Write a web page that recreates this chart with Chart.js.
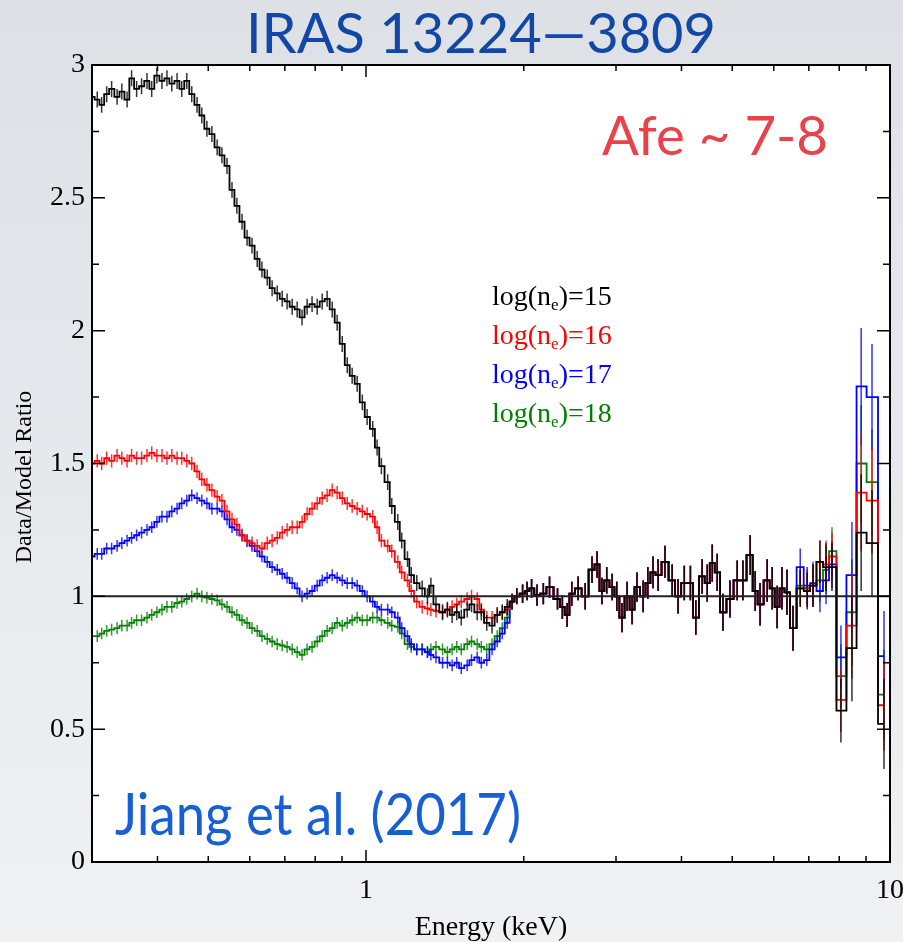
<!DOCTYPE html>
<html>
<head>
<meta charset="utf-8">
<title>IRAS 13224-3809 ratio</title>
<script src="https://cdn.jsdelivr.net/npm/chart.js@4.4.0/dist/chart.umd.min.js"></script>
<style>
  html, body { margin: 0; padding: 0; }
  body {
    width: 903px; height: 942px; overflow: hidden;
    background: linear-gradient(to bottom, #dde1e6 0%, #e7eaed 55%, #eff1f3 100%);
  }
  canvas { display: block; }
</style>
</head>
<body>
<canvas id="ratio-chart" width="903" height="942"></canvas>
<script>
// energy grid of the finely binned soft band (keV)
const energyDense = [
  0.300, 0.307, 0.313, 0.320, 0.327, 0.335, 0.342, 0.350, 0.357, 0.365, 0.373, 0.382,
  0.390, 0.399, 0.408, 0.417, 0.426, 0.436, 0.445, 0.455, 0.465, 0.476, 0.486, 0.497,
  0.508, 0.520, 0.531, 0.543, 0.555, 0.567, 0.580, 0.593, 0.606, 0.620, 0.633, 0.648,
  0.662, 0.677, 0.692, 0.707, 0.723, 0.739, 0.755, 0.772, 0.789, 0.807, 0.825, 0.843,
  0.862, 0.881, 0.901, 0.921, 0.941, 0.962, 0.984, 1.005, 1.03, 1.05, 1.07, 1.10,
  1.12, 1.15, 1.17, 1.20, 1.22, 1.25, 1.28, 1.31, 1.33, 1.36, 1.40, 1.43,
  1.46, 1.49, 1.52, 1.56, 1.59, 1.63, 1.66, 1.70, 1.74, 1.78, 1.82, 1.86
];

// data/model ratio in the soft band, one array per density
const ne15Dense = [
  2.88, 2.87, 2.85, 2.89, 2.91, 2.88, 2.90, 2.87, 2.95, 2.91, 2.92, 2.94,
  2.91, 2.96, 2.94, 2.95, 2.93, 2.94, 2.91, 2.94, 2.89, 2.85, 2.81, 2.76,
  2.74, 2.69, 2.66, 2.62, 2.53, 2.47, 2.41, 2.35, 2.32, 2.27, 2.23, 2.20,
  2.16, 2.14, 2.12, 2.11, 2.09, 2.08, 2.05, 2.09, 2.10, 2.09, 2.11, 2.12,
  2.08, 2.03, 1.95, 1.87, 1.83, 1.80, 1.73, 1.675, 1.63, 1.56, 1.49, 1.43,
  1.34, 1.28, 1.21, 1.14, 1.08, 1.05, 1.03, 1.00, 1.04, 0.97, 0.94, 0.95,
  0.93, 0.94, 0.92, 0.95, 0.97, 0.94, 0.94, 0.90, 0.89, 0.93, 0.94, 0.96
];
const ne16Dense = [
  1.50, 1.51, 1.50, 1.52, 1.51, 1.53, 1.52, 1.51, 1.53, 1.52, 1.52, 1.53,
  1.54, 1.53, 1.53, 1.52, 1.53, 1.52, 1.52, 1.51, 1.50, 1.47, 1.44, 1.42,
  1.40, 1.375, 1.36, 1.32, 1.29, 1.27, 1.23, 1.21, 1.20, 1.19, 1.18, 1.20,
  1.21, 1.22, 1.24, 1.25, 1.26, 1.26, 1.28, 1.31, 1.33, 1.35, 1.37, 1.38,
  1.40, 1.39, 1.37, 1.35, 1.34, 1.33, 1.32, 1.31, 1.30, 1.26, 1.21, 1.19,
  1.17, 1.13, 1.09, 1.06, 1.02, 0.98, 0.96, 0.955, 0.95, 0.945, 0.94, 0.95,
  0.96, 0.97, 0.98, 0.99, 1.00, 0.99, 0.95, 0.92, 0.92, 0.93, 0.94, 0.95
];
const ne17Dense = [
  1.15, 1.16, 1.16, 1.18, 1.18, 1.19, 1.20, 1.21, 1.22, 1.23, 1.24, 1.25,
  1.26, 1.28, 1.30, 1.30, 1.32, 1.33, 1.35, 1.36, 1.38, 1.37, 1.36, 1.35,
  1.33, 1.33, 1.32, 1.29, 1.26, 1.25, 1.23, 1.21, 1.19, 1.17, 1.15, 1.13,
  1.11, 1.10, 1.085, 1.07, 1.05, 1.03, 1.00, 1.01, 1.02, 1.04, 1.06, 1.07,
  1.08, 1.07, 1.06, 1.05, 1.05, 1.04, 1.02, 1.00, 0.98, 0.96, 0.95, 0.95,
  0.94, 0.92, 0.88, 0.85, 0.82, 0.80, 0.80, 0.79, 0.78, 0.77, 0.75, 0.75,
  0.74, 0.75, 0.73, 0.74, 0.76, 0.77, 0.75, 0.76, 0.80, 0.83, 0.86, 0.90
];
const ne18Dense = [
  0.85, 0.85, 0.86, 0.87, 0.875, 0.88, 0.89, 0.89, 0.90, 0.91, 0.91, 0.92,
  0.93, 0.94, 0.95, 0.96, 0.96, 0.975, 0.98, 0.99, 1.00, 1.01, 1.00, 0.995,
  0.99, 0.985, 0.97, 0.96, 0.94, 0.93, 0.91, 0.90, 0.88, 0.87, 0.85, 0.84,
  0.83, 0.82, 0.815, 0.81, 0.80, 0.79, 0.78, 0.80, 0.81, 0.83, 0.85, 0.87,
  0.88, 0.90, 0.89, 0.90, 0.91, 0.92, 0.91, 0.91, 0.92, 0.92, 0.91, 0.90,
  0.89, 0.885, 0.86, 0.82, 0.81, 0.80, 0.80, 0.79, 0.80, 0.81, 0.80, 0.79,
  0.80, 0.81, 0.80, 0.82, 0.83, 0.82, 0.81, 0.80, 0.82, 0.85, 0.88, 0.92
];
// 1-sigma errors of the soft band points
const denseErr = [0.03, 0.025, 0.022, 0.022];

// hard band, where all four models give nearly the same ratio
const energyShared = [
  1.90, 1.94, 1.99, 2.03, 2.07, 2.12, 2.18, 2.24, 2.32, 2.37, 2.42, 2.47, 2.54,
  2.62, 2.70, 2.76, 2.82, 2.88, 2.95, 3.01, 3.08, 3.15, 3.22, 3.29, 3.38, 3.45,
  3.53, 3.61, 3.72, 3.84, 3.94, 4.05, 4.16, 4.26, 4.38, 4.48, 4.58, 4.68, 4.80,
  4.95, 5.11, 5.24, 5.41, 5.53, 5.65, 5.83, 5.96, 6.09, 6.22, 6.36, 6.53
];
const ratioShared = [
  0.98, 1.00, 1.01, 1.02, 1.03, 1.005, 1.01, 1.035, 0.99, 0.96, 0.93, 1.01, 1.03,
  1.00, 1.10, 1.12, 1.02, 1.06, 1.035, 1.00, 0.92, 1.00, 0.95, 1.035, 1.00, 1.05,
  1.09, 1.08, 1.13, 1.06, 1.00, 1.05, 1.05, 0.92, 1.075, 1.05, 1.125, 1.09, 0.94,
  0.99, 1.06, 1.06, 1.155, 1.02, 0.97, 1.06, 1.03, 0.96, 1.03, 1.015, 0.88
];
const errShared = [
  0.03, 0.03, 0.035, 0.035, 0.035, 0.04, 0.04, 0.04, 0.04, 0.045, 0.045, 0.045, 0.045,
  0.05, 0.05, 0.05, 0.05, 0.05, 0.05, 0.055, 0.055, 0.055, 0.055, 0.055, 0.06, 0.06,
  0.06, 0.06, 0.06, 0.06, 0.065, 0.065, 0.065, 0.065, 0.065, 0.07, 0.07, 0.07, 0.07,
  0.07, 0.075, 0.075, 0.075, 0.075, 0.08, 0.08, 0.08, 0.08, 0.08, 0.085, 0.085
];

// iron band, wide bins where the models separate
const energyTail = [6.74, 6.95, 7.13, 7.35, 7.55, 7.75, 8.06, 8.46, 8.81, 9.24, 9.74];
const errTail    = [0.07, 0.07, 0.08, 0.08, 0.09, 0.09, 0.12, 0.20, 0.22, 0.20, 0.17];
const ne15Tail = [1.03, 1.02, 1.04, 1.13, 1.11, 1.11, 0.57, 0.805, 1.24, 1.20, 0.52];
const ne16Tail = [1.03, 1.03, 1.04, 1.13, 1.12, 1.15, 0.61, 0.89, 1.39, 1.36, 0.59];
const ne17Tail = [1.11, 1.04, 1.05, 1.02, 1.06, 1.12, 0.77, 1.08, 1.79, 1.75, 0.775];
const ne18Tail = [1.04, 1.03, 1.04, 1.06, 1.10, 1.17, 0.70, 0.94, 1.50, 1.43, 0.63];

const densityLabels = ['15', '16', '17', '18'];
const densityColors = ['#000000', '#ff0000', '#0000ff', '#008000'];

// axis tick values
const xMinorTicks = [0.4, 0.5, 0.6, 0.7, 0.8, 0.9, 2, 3, 4, 5, 6, 7, 8, 9];
const xMajorTicks = [1];
const xLabelTicks = [1, 10];
const yMinorTicks = [0.25, 0.75, 1.25, 1.75, 2.25, 2.75];
const yMajorTicks = [0.5, 1, 1.5, 2, 2.5];

function buildSeries(dense, dErr, tail) {
  const pts = [];
  energyDense.forEach((e, i) => pts.push({ x: e, y: dense[i], e: dErr }));
  energyShared.forEach((e, i) => pts.push({ x: e, y: ratioShared[i], e: errShared[i] }));
  energyTail.forEach((e, i) => pts.push({ x: e, y: tail[i], e: errTail[i] }));
  return pts;
}

const denseSets = [ne15Dense, ne16Dense, ne17Dense, ne18Dense];
const tailSets = [ne15Tail, ne16Tail, ne17Tail, ne18Tail];

const ratioSets = denseSets.map((d, k) => ({
  label: 'log(ne)=' + densityLabels[k],
  data: buildSeries(d, denseErr[k], tailSets[k]),
  borderColor: densityColors[k],
  errColor: densityColors[k],
  borderWidth: 1.8,
  stepped: 'middle',
  pointRadius: 0
}));

const serif = '"Liberation Serif", "Times New Roman", serif';

// white plot area, frame and inward ticks
const framePlugin = {
  id: 'frame',
  beforeDraw(chart) {
    const { ctx, chartArea: a } = chart;
    ctx.save();
    ctx.fillStyle = '#ffffff';
    ctx.fillRect(a.left, a.top, a.width, a.height);
    ctx.restore();
  },
  afterDatasetsDraw(chart) {
    const { ctx, chartArea: a, scales: { x, y } } = chart;
    ctx.save();
    ctx.strokeStyle = '#000';
    ctx.lineWidth = 1.5;
    ctx.beginPath();
    const xt = (v, len) => {
      const px = x.getPixelForValue(v);
      ctx.moveTo(px, a.bottom); ctx.lineTo(px, a.bottom - len);
      ctx.moveTo(px, a.top); ctx.lineTo(px, a.top + len);
    };
    const yt = (v, len) => {
      const py = y.getPixelForValue(v);
      ctx.moveTo(a.left, py); ctx.lineTo(a.left + len, py);
      ctx.moveTo(a.right, py); ctx.lineTo(a.right - len, py);
    };
    xMinorTicks.forEach(v => xt(v, 6));
    xMajorTicks.forEach(v => xt(v, 12));
    yMinorTicks.forEach(v => yt(v, 7));
    yMajorTicks.forEach(v => yt(v, 13));
    ctx.stroke();
    ctx.lineWidth = 2;
    ctx.strokeRect(a.left, a.top, a.width, a.height);
    ctx.restore();
  }
};

// vertical error bars, drawn right after each series so the stacking is kept
const errorBarPlugin = {
  id: 'errorBars',
  afterDatasetDraw(chart, args) {
    const ds = chart.data.datasets[args.index];
    if (!ds.errColor) return;
    const { ctx, chartArea: a, scales: { x, y } } = chart;
    ctx.save();
    ctx.beginPath();
    ctx.rect(a.left, a.top, a.width, a.height);
    ctx.clip();
    ctx.strokeStyle = ds.errColor;
    ctx.globalAlpha = 0.8;
    ctx.lineWidth = 1.5;
    ctx.beginPath();
    ds.data.forEach(p => {
      const px = x.getPixelForValue(p.x);
      ctx.moveTo(px, y.getPixelForValue(p.y - p.e));
      ctx.lineTo(px, y.getPixelForValue(p.y + p.e));
    });
    ctx.stroke();
    ctx.restore();
  }
};

// headline, annotations, legend and axis titles
const textPlugin = {
  id: 'texts',
  afterDraw(chart) {
    const ctx = chart.ctx;
    const a = chart.chartArea;
    ctx.save();
    ctx.textBaseline = 'alphabetic';

    ctx.fillStyle = '#1347a6';
    ctx.font = '56px Lato';
    ctx.textAlign = 'center';
    ctx.fillText('IRAS 13224\u20143809', 481, 53, 471);

    ctx.fillStyle = '#e8424a';
    ctx.font = '55px Lato';
    ctx.textAlign = 'left';
    ctx.fillText('Afe ~ 7-8', 602, 155, 226);

    ctx.fillStyle = '#165fd4';
    ctx.font = '58px Lato';
    ctx.fillText('Jiang et al. (2017)', 115, 835, 406);

    // legend
    densityLabels.forEach((lab, k) => {
      const base = 305 + k * 39;
      let cx = 492;
      ctx.fillStyle = densityColors[k];
      ctx.font = '28px ' + serif;
      ctx.fillText('log(n', cx, base);
      cx += ctx.measureText('log(n').width;
      ctx.font = '17px ' + serif;
      ctx.fillText('e', cx, base + 5);
      cx += ctx.measureText('e').width;
      ctx.font = '28px ' + serif;
      ctx.fillText(')=' + lab, cx, base);
    });

    // axis titles
    ctx.fillStyle = '#000';
    ctx.font = '28px ' + serif;
    ctx.textAlign = 'center';
    ctx.fillText('Energy (keV)', (a.left + a.right) / 2, 935);

    ctx.translate(25, 477);
    ctx.rotate(-Math.PI / 2);
    ctx.font = '24px ' + serif;
    ctx.textBaseline = 'middle';
    ctx.fillText('Data/Model Ratio', 0, 0);
    ctx.restore();
  }
};

new Chart(document.getElementById('ratio-chart'), {
  type: 'line',
  data: {
    datasets: [
      {
        label: 'unity',
        data: [{ x: 0.3, y: 1 }, { x: 10, y: 1 }],
        borderColor: '#222',
        borderWidth: 2,
        pointRadius: 0
      }
    ].concat(ratioSets)
  },
  options: {
    responsive: false,
    animation: false,
    events: [],
    layout: { padding: { left: 0, top: 65, right: 0, bottom: 0 } },
    plugins: { legend: { display: false }, tooltip: { enabled: false }, title: { display: false } },
    scales: {
      x: {
        type: 'logarithmic',
        min: 0.3,
        max: 10,
        grid: { display: false, drawTicks: false },
        border: { display: false },
        afterBuildTicks(scale) { scale.ticks = xLabelTicks.map(v => ({ value: v })); },
        afterFit(scale) {
          scale.height = 80;
          scale.paddingLeft = 0;
          scale.paddingRight = 13;
        },
        ticks: {
          autoSkip: false,
          maxRotation: 0,
          padding: 12,
          color: '#000',
          font: { family: serif, size: 28 },
          callback: v => String(v)
        }
      },
      y: {
        min: 0,
        max: 3,
        grid: { display: false, drawTicks: false },
        border: { display: false },
        afterFit(scale) { scale.width = 92; },
        ticks: {
          stepSize: 0.5,
          padding: 7,
          color: '#000',
          font: { family: serif, size: 28 },
          callback: v => String(v)
        }
      }
    }
  },
  plugins: [framePlugin, errorBarPlugin, textPlugin]
});
</script>
</body>
</html>
